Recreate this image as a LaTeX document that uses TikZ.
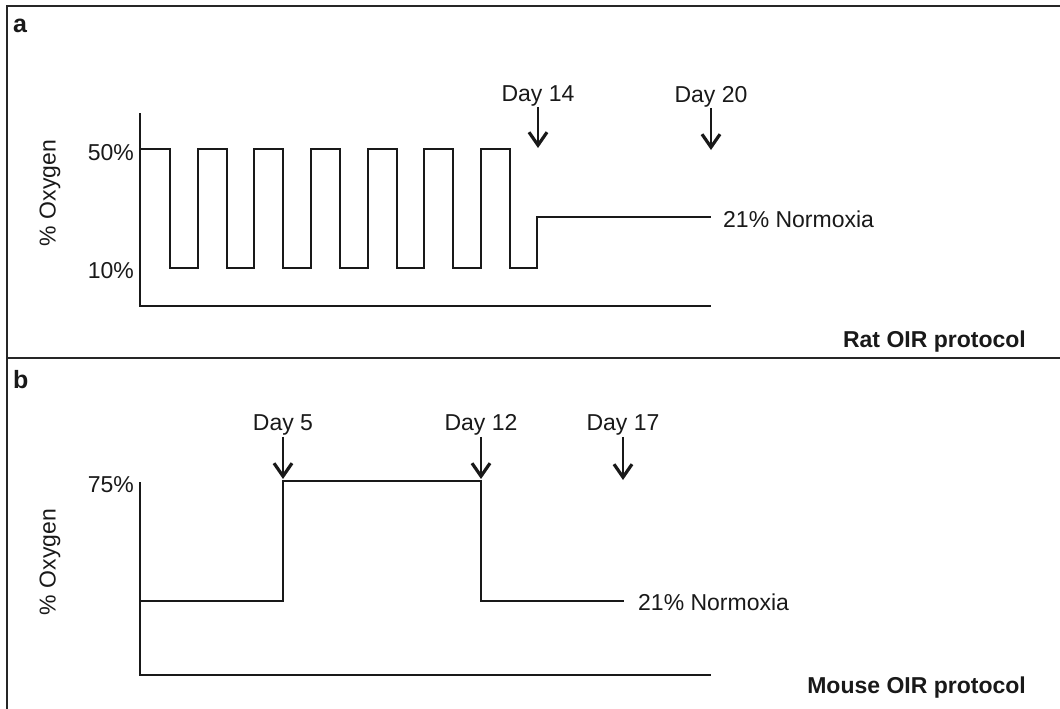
\documentclass[tikz,border=0pt]{standalone}
\usepackage{fontspec}
\setmainfont{Liberation Sans}
\usetikzlibrary{arrows.meta}
\begin{document}
\begin{tikzpicture}[x=1pt,y=-1pt,
  txt/.style={font=\fontsize{23}{27}\selectfont, inner sep=0pt, text=black!90},
  bold/.style={font=\fontsize{23}{27}\selectfont\bfseries, inner sep=0pt, text=black!90},
  panel/.style={font=\fontsize{25}{29}\selectfont\bfseries, inner sep=0pt, text=black!90},
  frame/.style={line width=1.8pt, draw=black!85},
  axis/.style={line width=1.8pt, draw=black!90},
  wave/.style={line width=1.6pt, draw=black!90},
  dayarrow/.style={line width=1.5pt, draw=black!90, -{Straight Barb[length=13pt,width=18pt,line width=3.2pt]}}
]
\useasboundingbox (0,0) rectangle (1060,709);
% frame
\draw[frame] (7,709) -- (7,6) -- (1060,6);
\draw[frame] (7,358) -- (1060,358);
% panel labels
\node[panel, anchor=base west] (pa) at (13,33) {a};
\node[panel, anchor=base west] (pb) at (13,388) {b};

% ---------- panel a ----------
\draw[axis] (140,113) -- (140,306) -- (711,306);
\draw[wave] (140,149) -- (170,149) -- (170,268) -- (198,268) -- (198,149)
  -- (227,149) -- (227,268) -- (254,268) -- (254,149)
  -- (283,149) -- (283,268) -- (311,268) -- (311,149)
  -- (340,149) -- (340,268) -- (368,268) -- (368,149)
  -- (397,149) -- (397,268) -- (424,268) -- (424,149)
  -- (453,149) -- (453,268) -- (481,268) -- (481,149)
  -- (510,149) -- (510,268) -- (537,268) -- (537,217) -- (711,217);
\node[txt, anchor=base east] (a50) at (134,160) {50\%};
\node[txt, anchor=base east] (a10) at (134,278) {10\%};
\node[txt, rotate=90] (aoxy) at (50,193) {\% Oxygen};
\node[txt, anchor=base west] (anorm) at (723,227) {21\% Normoxia};
\node[txt, anchor=base] (d14) at (538,101) {Day 14};
\node[txt, anchor=base] (d20) at (711,102) {Day 20};
\coordinate (t14) at (538,148);
\coordinate (t20) at (711,150);
\draw[dayarrow] (d14.south) ++(0,1) -- (t14);
\draw[dayarrow] (d20.south) ++(0,1) -- (t20);
\node[bold, anchor=base east] (rat) at (1026,347) {Rat OIR protocol};

% ---------- panel b ----------
\draw[axis] (140,482) -- (140,675) -- (711,675);
\draw[wave] (140,601) -- (283,601) -- (283,481) -- (481,481) -- (481,601) -- (624,601);
\node[txt, anchor=base east] (b75) at (134,492) {75\%};
\node[txt, rotate=90] (boxy) at (50,562) {\% Oxygen};
\node[txt, anchor=base west] (bnorm) at (638,610) {21\% Normoxia};
\node[txt, anchor=base] (d5) at (283,430) {Day 5};
\node[txt, anchor=base] (d12) at (481,430) {Day 12};
\node[txt, anchor=base] (d17) at (623,430) {Day 17};
\coordinate (t5) at (283,479);
\coordinate (t12) at (481,479);
\coordinate (t17) at (623,480);
\draw[dayarrow] (d5.south) ++(0,2) -- (t5);
\draw[dayarrow] (d12.south) ++(0,2) -- (t12);
\draw[dayarrow] (d17.south) ++(0,2) -- (t17);
\node[bold, anchor=base east] (mouse) at (1026,693) {Mouse OIR protocol};
\end{tikzpicture}
\end{document}
